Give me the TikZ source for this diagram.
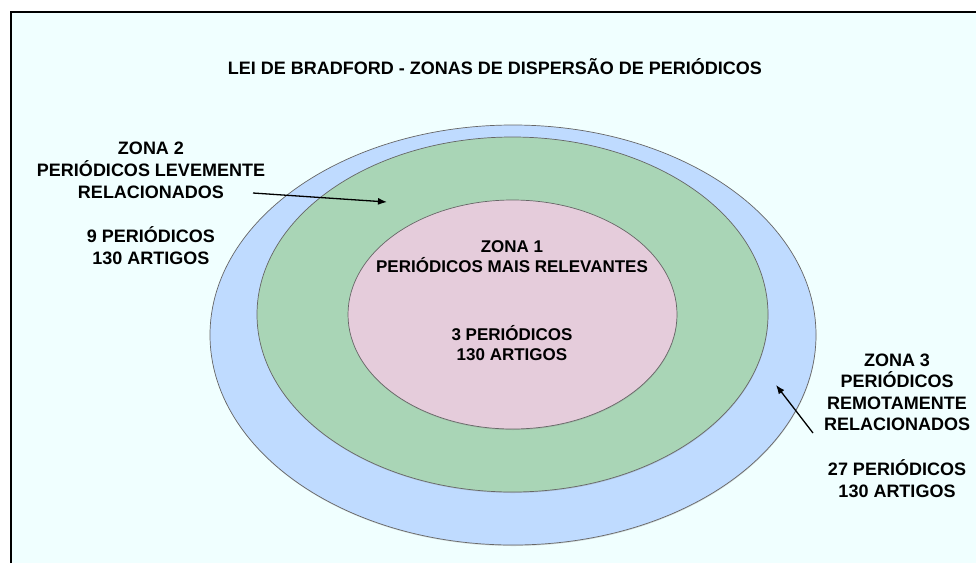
\documentclass[tikz,border=0pt]{standalone}
\usepackage{fontspec}
\setmainfont{Liberation Sans}
\usetikzlibrary{shapes.geometric,shadows,arrows.meta}

\definecolor{fundo}{RGB}{240,255,255}
\definecolor{azul}{RGB}{191,219,255}
\definecolor{verde}{RGB}{169,213,182}
\definecolor{rosa}{RGB}{229,204,219}

\begin{document}
\begin{tikzpicture}[x=1pt, y=-1pt, every node/.style={inner sep=0pt, align=center, font=\fontsize{18}{21.6}\selectfont\bfseries},
  zona/.style={ellipse, draw=black!60, line width=0.7pt, drop shadow={shadow xshift=0.3pt, shadow yshift=-1pt, opacity=.3}}]
\useasboundingbox (0,0) rectangle (976,563);
\fill[fundo] (11,12) rectangle (976,563);
\draw[line width=2pt] (11,563) -- (11,12) -- (976,12);

\node[zona, fill=azul, minimum width=606, minimum height=420] (Z3) at (513,335) {};
\node[zona, fill=verde, minimum width=511, minimum height=355] (Z2) at (512.5,314.5) {};
\node[zona, fill=rosa, minimum width=329, minimum height=229] (Z1) at (512.5,314.5) {};

\node[anchor=base] (titulo) at (495,74) {LEI DE BRADFORD - ZONAS DE DISPERSÃO DE PERIÓDICOS};
\node[font=\fontsize{17}{20.4}\selectfont\bfseries] (zona1) at (512,300.5)
  {ZONA 1\\PERIÓDICOS MAIS RELEVANTES\\[47pt]3 PERIÓDICOS\\130 ARTIGOS};
\node (zona2) at (151,203.5)
  {ZONA 2\\PERIÓDICOS LEVEMENTE\\RELACIONADOS\\[23pt]9 PERIÓDICOS\\130 ARTIGOS};
\node (zona3) at (897,425.5)
  {ZONA 3\\PERIÓDICOS\\REMOTAMENTE\\RELACIONADOS\\[23pt]27 PERIÓDICOS\\130 ARTIGOS};

\coordinate (p2) at (253,193);
\coordinate (a2) at (387,202);
\coordinate (p3) at (813,433);
\coordinate (a3) at (776,385);
\draw[-{Latex[length=9pt,width=7pt]}, line width=1.3pt] (p2) -- (a2);
\draw[-{Latex[length=9pt,width=7pt]}, line width=1.3pt] (p3) -- (a3);
\end{tikzpicture}
\end{document}
